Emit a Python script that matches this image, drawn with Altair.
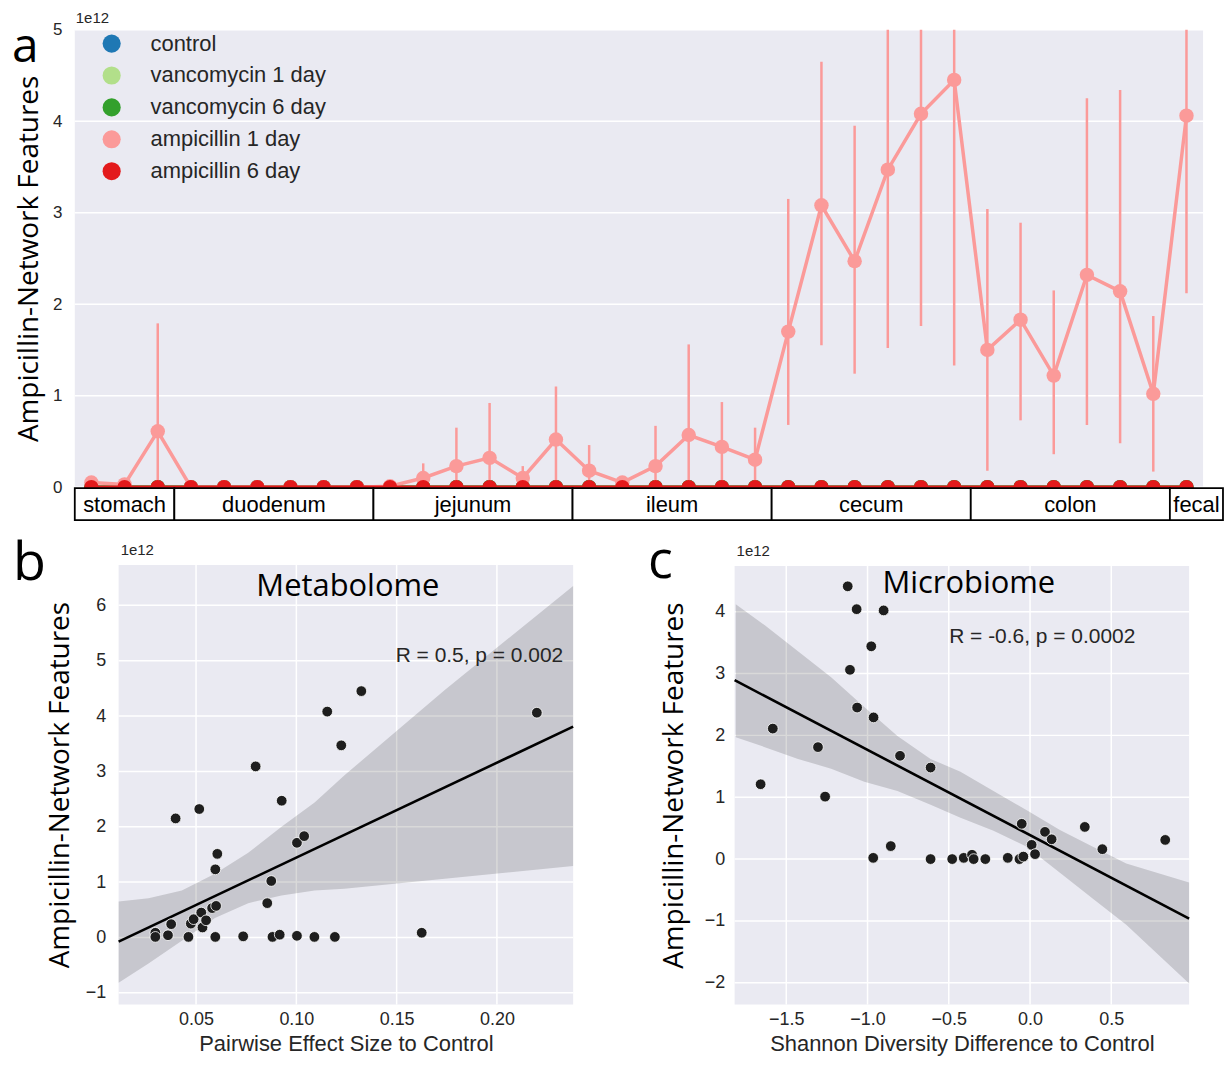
import altair as alt
import pandas as pd

# ---------------- Panel a data ----------------
positions = list(range(34))
series_names = ["control", "vancomycin 1 day", "vancomycin 6 day",
                "ampicillin 1 day", "ampicillin 6 day"]
series_colors = ["#1f78b4", "#b2df8a", "#33a02c", "#fb9a99", "#e31a1c"]

control_vals = [0.0, 0.0, 0.0, 0.0, 0.0, 0.0, 0.0, 0.0, 0.0, 0.0, 0.0, 0.0,
                0.0, 0.0, 0.0, 0.0, 0.0, 0.0, 0.0, 0.0, 0.0, 0.0, 0.0, 0.0,
                0.0, 0.0, 0.0, 0.0, 0.0, 0.0, 0.0, 0.0, 0.0, 0.0]
vanc1_vals = [0.0, 0.0, 0.0, 0.0, 0.0, 0.0, 0.0, 0.0, 0.0, 0.0, 0.0, 0.0,
              0.0, 0.0, 0.0, 0.0, 0.0, 0.0, 0.0, 0.0, 0.0, 0.0, 0.0, 0.0,
              0.0, 0.0, 0.0, 0.0, 0.0, 0.0, 0.0, 0.0, 0.0, 0.0]
vanc6_vals = [0.0, 0.0, 0.0, 0.0, 0.0, 0.0, 0.0, 0.0, 0.0, 0.0, 0.0, 0.0,
              0.0, 0.0, 0.0, 0.0, 0.0, 0.0, 0.0, 0.0, 0.0, 0.0, 0.0, 0.0,
              0.0, 0.0, 0.0, 0.0, 0.0, 0.0, 0.0, 0.0, 0.0, 0.0]
amp1_vals = [0.05, 0.03, 0.61, 0.0, 0.0, 0.0, 0.0, 0.0, 0.0, 0.01, 0.10, 0.23,
             0.32, 0.10, 0.52, 0.18, 0.05, 0.23, 0.57, 0.44, 0.30, 1.70, 3.08, 2.47,
             3.47, 4.08, 4.45, 1.50, 1.83, 1.22, 2.32, 2.14, 1.02, 4.06]
amp1_lo = [0.0, 0.0, 0.0, 0.0, 0.0, 0.0, 0.0, 0.0, 0.0, 0.0, 0.0, 0.0,
           0.0, 0.0, 0.0, 0.0, 0.0, 0.0, 0.0, 0.0, 0.0, 0.68, 1.55, 1.24,
           1.52, 1.76, 1.33, 0.18, 0.73, 0.36, 0.68, 0.48, 0.17, 2.12]
amp1_hi = [0.10, 0.05, 1.79, 0.0, 0.0, 0.0, 0.0, 0.0, 0.0, 0.02, 0.26, 0.65,
           0.92, 0.23, 1.10, 0.46, 0.10, 0.67, 1.56, 0.93, 0.65, 3.15, 4.65, 3.95,
           5.8, 6.4, 7.5, 3.04, 2.89, 2.15, 4.25, 4.34, 1.87, 6.0]
amp6_vals = [0.0, 0.0, 0.0, 0.0, 0.0, 0.0, 0.0, 0.0, 0.0, 0.0, 0.0, 0.0,
             0.0, 0.0, 0.0, 0.0, 0.0, 0.0, 0.0, 0.0, 0.0, 0.0, 0.0, 0.0,
             0.0, 0.0, 0.0, 0.0, 0.0, 0.0, 0.0, 0.0, 0.0, 0.0]
a_yticks = [0, 1, 2, 3, 4, 5]

region_names = ["stomach", "duodenum", "jejunum", "ileum", "cecum", "colon", "fecal"]
region_start = [-0.5, 2.5, 8.5, 14.5, 20.5, 26.5, 32.5]
region_end = [2.5, 8.5, 14.5, 20.5, 26.5, 32.5, 34.1]

# ---------------- Panel b data ----------------
b_x = [0.0297, 0.0297, 0.036, 0.0376, 0.0398, 0.0462, 0.0474, 0.0488, 0.0516,
       0.0526, 0.0532, 0.055, 0.058, 0.060, 0.0596, 0.0606, 0.0596, 0.0735,
       0.0797, 0.0855, 0.0875, 0.0881, 0.0917, 0.0927, 0.1003, 0.1039, 0.1003,
       0.109, 0.1154, 0.1192, 0.1224, 0.1324, 0.1625, 0.2199]
b_y = [0.085, 0.01, 0.04, 0.24, 2.15, 0.01, 0.25, 0.33, 2.32, 0.45, 0.18, 0.31,
       0.53, 0.57, 1.23, 1.51, 0.01, 0.02, 3.09, 0.62, 1.02, 0.01, 0.05, 2.47,
       1.71, 1.83, 0.03, 0.01, 4.08, 0.01, 3.47, 4.45, 0.085, 4.06]
b_band_x = [0.0114, 0.0263, 0.0429, 0.0594, 0.076, 0.0926, 0.1091, 0.124, 0.174, 0.238]
b_band_hi = [0.65, 0.71, 0.85, 1.15, 1.53, 2.0, 2.44, 2.93, 4.47, 6.35]
b_band_lo = [-0.82, -0.47, -0.06, 0.35, 0.62, 0.76, 0.85, 0.88, 1.06, 1.29]
b_xticks = [0.05, 0.10, 0.15, 0.20]
b_yticks = [-1, 0, 1, 2, 3, 4, 5, 6]

# ---------------- Panel c data ----------------
c_x = [-1.122, -1.067, -0.901, -0.977, -1.108, -1.064, -0.963, -1.583, -1.305,
       -0.800, -0.612, -1.658, -1.261, -0.965, -0.857, -0.612, -0.479, -0.408,
       -0.357, -0.347, -0.275, -0.137, -0.065, -0.041, -0.051, 0.010, 0.031,
       0.092, 0.133, 0.337, 0.445, 0.832]
c_y = [4.41, 4.04, 4.02, 3.44, 3.06, 2.45, 2.29, 2.11, 1.81, 1.67, 1.48, 1.21,
       1.01, 0.02, 0.21, 0.0, 0.0, 0.02, 0.07, 0.0, 0.0, 0.02, 0.0, 0.04, 0.57,
       0.23, 0.08, 0.44, 0.32, 0.52, 0.16, 0.31]
c_band_x = [-1.811, -1.632, -1.428, -1.224, -1.02, -0.816, -0.612, -0.428, -0.225,
            -0.02, 0.184, 0.387, 0.592, 0.979]
c_band_hi = [4.12, 3.78, 3.36, 2.94, 2.46, 1.99, 1.62, 1.41, 1.10, 0.79, 0.47, 0.20,
             -0.07, -0.38]
c_band_lo = [1.97, 1.81, 1.62, 1.46, 1.25, 1.10, 0.88, 0.67, 0.46, 0.20, -0.22, -0.64,
             -1.06, -2.01]
c_xticks = [-1.5, -1.0, -0.5, 0.0, 0.5]
c_yticks = [-2, -1, 0, 1, 2, 3, 4]

# ---------------- style / layout ----------------
BG = "#EAEAF2"
TXT = "#262626"
TITLE_FONT = "Open Sans"
LABEL_FONT = "Liberation Sans"
YTITLE = "Ampicillin-Network Features"

VIEW_W, VIEW_H = 1199, 998
A_L, A_R, A_T, A_B = 67, 1199, 20, 479
B_L, B_R, B_T, B_B = 111, 567, 557, 998
C_L, C_R, C_T, C_B = 729, 1185, 558, 998

one = pd.DataFrame({"k": [0]})


def bg_rect(l, r, t, b):
    return alt.Chart(one).mark_rect(color=BG).encode(
        x=alt.value(l), x2=alt.value(r), y=alt.value(t), y2=alt.value(b))


def label(text, x, y, size, font=LABEL_FONT, align="left", color=TXT):
    return alt.Chart(pd.DataFrame({"t": [text]})).mark_text(
        align=align, baseline="alphabetic", font=font, fontSize=size,
        color=color).encode(x=alt.value(x), y=alt.value(y), text="t:N")


layers = []

# ---------------- Panel a ----------------
series_data = {
    "control": (control_vals, control_vals, control_vals),
    "vancomycin 1 day": (vanc1_vals, vanc1_vals, vanc1_vals),
    "vancomycin 6 day": (vanc6_vals, vanc6_vals, vanc6_vals),
    "ampicillin 1 day": (amp1_vals, amp1_lo, amp1_hi),
    "ampicillin 6 day": (amp6_vals, amp6_vals, amp6_vals),
}
rows = []
for name in series_names:
    v, lo, hi = series_data[name]
    for i, p in enumerate(positions):
        rows.append({"series": name, "pos": p, "val": v[i], "lo": lo[i], "hi": hi[i]})
df_a = pd.DataFrame(rows)

xA = alt.Scale(domain=[-0.5, 33.5], range=[A_L, A_R], nice=False, zero=False)
yA = alt.Scale(domain=[0, 5], range=[A_B, A_T], nice=False, zero=False, clamp=True)

layers.append(bg_rect(A_L, A_R, A_T, A_B))
layers.append(alt.Chart(pd.DataFrame({"v": a_yticks})).mark_rule(
    color="white", strokeWidth=1.5).encode(
    y=alt.Y("v:Q", scale=yA, axis=alt.Axis(
        orient="left", offset=-A_L, values=a_yticks, format="d", title=YTITLE,
        titleFont=TITLE_FONT, titleFontSize=28, titleFontWeight="normal",
        titleColor="black", titlePadding=9, labelFontSize=17, labelPadding=13,
        labelOverlap=False, grid=False)),
    x=alt.value(A_L), x2=alt.value(A_R)))

legendA = alt.Legend(title=None, orient="none", legendX=93, legendY=23, padding=0,
                     symbolType="circle", symbolSize=330, symbolStrokeWidth=0,
                     symbolOpacity=1, labelFont=LABEL_FONT, labelFontSize=22,
                     labelColor=TXT, labelOffset=28, rowPadding=10, labelLimit=500)

for name, col in zip(series_names, series_colors):
    base = alt.Chart(df_a).transform_filter(alt.datum.series == name)
    layers.append(base.mark_rule(color=col, strokeWidth=2.5).encode(
        x=alt.X("pos:Q", scale=xA, axis=None),
        y=alt.Y("lo:Q", scale=yA, axis=None), y2="hi:Q"))
    layers.append(base.mark_line(color=col, strokeWidth=3.5).encode(
        x=alt.X("pos:Q", scale=xA, axis=None),
        y=alt.Y("val:Q", scale=yA, axis=None)))
    if name == series_names[-1]:
        color_enc = alt.Color("series:N", scale=alt.Scale(domain=series_names,
                                                         range=series_colors),
                              legend=legendA)
    else:
        color_enc = alt.value(col)
    layers.append(base.mark_circle(size=210, opacity=1).encode(
        x=alt.X("pos:Q", scale=xA, axis=None),
        y=alt.Y("val:Q", scale=yA, axis=None), color=color_enc))

df_regions = pd.DataFrame({"name": region_names, "start": region_start, "end": region_end})
df_regions["mid"] = [(s + e) / 2 for s, e in zip(region_start, region_end)]
layers.append(alt.Chart(df_regions).mark_rect(fill="white", stroke="black",
                                              strokeWidth=1.8).encode(
    x=alt.X("start:Q", scale=xA, axis=None), x2="end:Q",
    y=alt.value(A_B + 1), y2=alt.value(A_B + 33)))
layers.append(alt.Chart(df_regions).mark_text(font=LABEL_FONT, fontSize=22,
                                              color="black", baseline="middle").encode(
    x=alt.X("mid:Q", scale=xA, axis=None), y=alt.value(A_B + 18), text="name:N"))
layers.append(label("1e12", A_L + 1, A_T - 7, 15))
layers.append(label("a", 4, 52, 48, font=TITLE_FONT, color="black"))


# ---------------- Panels b and c ----------------
def scatter_layers(xs, ys, bx, blo, bhi, xdom, ydom, xticks, xfmt, yticks, xtitle,
                   box, ytitle_pad, ylab_pad):
    L, R, T, B = box
    df = pd.DataFrame({"x": xs, "y": ys})
    dfb = pd.DataFrame({"bx": bx, "lo": blo, "hi": bhi})
    xs_ = alt.Scale(domain=xdom, range=[L, R], nice=False, zero=False)
    ys_ = alt.Scale(domain=ydom, range=[B, T], nice=False, zero=False, clamp=True)
    out = [bg_rect(L, R, T, B)]
    out.append(alt.Chart(pd.DataFrame({"v": yticks})).mark_rule(
        color="white", strokeWidth=1.5).encode(
        y=alt.Y("v:Q", scale=ys_, axis=alt.Axis(
            orient="left", offset=-L, values=yticks, format="d", title=YTITLE,
            titleFont=TITLE_FONT, titleFontSize=28, titleFontWeight="normal",
            titleColor="black", titlePadding=ytitle_pad, labelFontSize=18,
            labelPadding=ylab_pad, labelOverlap=False, grid=False)),
        x=alt.value(L), x2=alt.value(R)))
    out.append(alt.Chart(pd.DataFrame({"v": xticks})).mark_rule(
        color="white", strokeWidth=1.5).encode(
        x=alt.X("v:Q", scale=xs_, axis=alt.Axis(
            orient="bottom", offset=VIEW_H - B, values=xticks, format=xfmt,
            title=xtitle, titleFont=LABEL_FONT, titleFontSize=22,
            titleFontWeight="normal", titleColor=TXT, labelFontSize=18,
            labelPadding=6, titlePadding=5, labelOverlap=False, labelFlush=False,
            grid=False)),
        y=alt.value(T), y2=alt.value(B)))
    out.append(alt.Chart(dfb).mark_area(color="black", opacity=0.15).encode(
        x=alt.X("bx:Q", scale=xs_, axis=None),
        y=alt.Y("lo:Q", scale=ys_, axis=None), y2="hi:Q"))
    out.append(alt.Chart(df).transform_regression("x", "y", extent=xdom).mark_line(
        color="black", strokeWidth=2.6).encode(
        x=alt.X("x:Q", scale=xs_, axis=None),
        y=alt.Y("y:Q", scale=ys_, axis=None)))
    out.append(alt.Chart(df).mark_circle(size=115, color="#1e1e1e", opacity=1,
                                         stroke="white", strokeWidth=0.8).encode(
        x=alt.X("x:Q", scale=xs_, axis=None),
        y=alt.Y("y:Q", scale=ys_, axis=None)))
    return out


layers += scatter_layers(b_x, b_y, b_band_x, b_band_lo, b_band_hi,
                         [0.0114, 0.238], [-1.21, 6.73], b_xticks, ".2f", b_yticks,
                         "Pairwise Effect Size to Control",
                         (B_L, B_R, B_T, B_B), 11, 13)
layers.append(label("Metabolome", 341, 588, 31, font=TITLE_FONT, align="center",
                    color="black"))
layers.append(label("R = 0.5, p = 0.002", 557, 654, 21, align="right"))
layers.append(label("1e12", B_L + 2, B_T - 10, 15))
layers.append(label("b", 5, 572, 54, font=TITLE_FONT, color="black"))

layers += scatter_layers(c_x, c_y, c_band_x, c_band_lo, c_band_hi,
                         [-1.818, 0.979], [-2.35, 4.74], c_xticks, ".1f", c_yticks,
                         "Shannon Diversity Difference to Control",
                         (C_L, C_R, C_T, C_B), 16, 10)
layers.append(label("Microbiome", 964, 585, 31, font=TITLE_FONT, align="center",
                    color="black"))
layers.append(label("R = -0.6, p = 0.0002", 1131, 635, 21, align="right"))
layers.append(label("1e12", C_L + 2, C_T - 10, 15))
layers.append(label("c", 642, 570, 52, font=TITLE_FONT, color="black"))

chart = alt.layer(*layers).resolve_scale(
    x="independent", y="independent", color="independent"
).properties(
    width=VIEW_W, height=VIEW_H, padding=0
).configure_view(fill="white", strokeWidth=0).configure_axis(
    domain=False, ticks=False, labelColor=TXT, labelFont=LABEL_FONT)

chart.save("out.html", embed_options={"renderer": "svg", "actions": False})
